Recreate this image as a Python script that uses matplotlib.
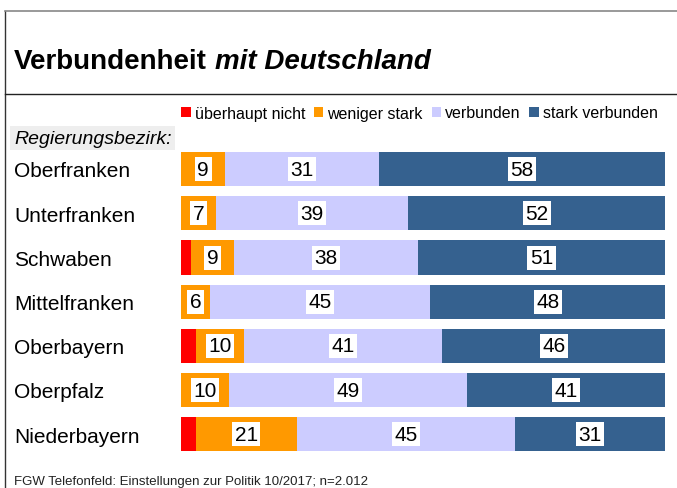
import numpy as np
import matplotlib
matplotlib.use('Agg')
import matplotlib.pyplot as plt
from matplotlib.patches import Patch
from matplotlib.lines import Line2D
import matplotlib.transforms as mtransforms

plt.rcParams['font.family'] = ['Liberation Sans', 'DejaVu Sans']

# data
regions = ['Oberfranken', 'Unterfranken', 'Schwaben', 'Mittelfranken',
           'Oberbayern', 'Oberpfalz', 'Niederbayern']
ueberhaupt_nicht = [0, 0, 2, 0, 3, 0, 3]
weniger_stark = [9, 7, 9, 6, 10, 10, 21]
verbunden = [31, 39, 38, 45, 41, 49, 45]
stark_verbunden = [58, 52, 51, 48, 46, 41, 31]

series_names = ['überhaupt nicht', 'weniger stark', 'verbunden', 'stark verbunden']
colors = ['#FF0000', '#FF9900', '#CCCCFF', '#35618F']

W, H = 677, 489
fig = plt.figure(figsize=(W/100, H/100), dpi=100)

# bar axes (pixel layout)
x0, x1 = 181, 665
y_top, row_h = 148, 44.2
n = len(regions)
ax = fig.add_axes([x0/W, 1-(y_top+n*row_h)/H, (x1-x0)/W, n*row_h/H])

data = np.array([ueberhaupt_nicht, weniger_stark, verbunden, stark_verbunden], dtype=float)
totals = data.sum(axis=0)
shares = data/totals*100
y = np.arange(n)
left = np.zeros(n)
for k in range(4):
	ax.barh(y, shares[k], left=left, height=0.77, color=colors[k], linewidth=0)
	if k > 0:
		for i in range(n):
			ax.text(left[i]+shares[k][i]/2, y[i], '%d' % data[k][i], ha='center', va='center',
				fontsize=15, color='black',
				bbox=dict(boxstyle='square,pad=0.12', facecolor='white', edgecolor='none'))
	left = left + shares[k]

ax.set_xlim(0, 100)
ax.set_ylim(n-0.5, -0.5)
ax.axis('off')

# row labels
trans = mtransforms.blended_transform_factory(fig.transFigure, ax.transData)
for i, r in enumerate(regions):
	ax.text(14/W, i+0.04, r, transform=trans, ha='left', va='center', fontsize=15, clip_on=False)

fig.text(14/W, 1-139/H, 'Regierungsbezirk:', fontsize=14, style='italic', ha='left', va='center',
	bbox=dict(boxstyle='square,pad=0.2', facecolor='#EEEEEE', edgecolor='none'))

# title
t1 = fig.text(14/W, 1-62/H, 'Verbundenheit', fontsize=20, fontweight='bold', ha='left', va='center')
ann = plt.annotate('mit Deutschland', xy=(1, 0), xycoords=t1, xytext=(5.6, 0), textcoords='offset points',
	fontsize=20, fontweight='bold', style='italic', ha='left', va='bottom')

# legend
handles = [Patch(facecolor=c, edgecolor='none') for c in colors]
fig.legend(handles, series_names, loc='center left', bbox_to_anchor=(181/W, 1-114/H), ncol=4,
	frameon=False, fontsize=11.5, handlelength=0.6, handleheight=0.6, handletextpad=0.25,
	columnspacing=0.55, borderpad=0, borderaxespad=0)

# frame lines
fig.add_artist(Line2D([5/W, 5/W], [0, 1-12/H], color='#333333', lw=1, transform=fig.transFigure))
fig.add_artist(Line2D([5/W, 1], [1-12/H, 1-12/H], color='#888888', lw=1.2, transform=fig.transFigure))
fig.add_artist(Line2D([5/W, 1], [1-95/H, 1-95/H], color='#222222', lw=1, transform=fig.transFigure))

# footer
fig.text(14/W, 1-482/H, 'FGW Telefonfeld: Einstellungen zur Politik 10/2017; n=2.012', fontsize=9.5,
	ha='left', va='center', color='#222222')

plt.savefig('out.png', dpi=100)
plt.close()
